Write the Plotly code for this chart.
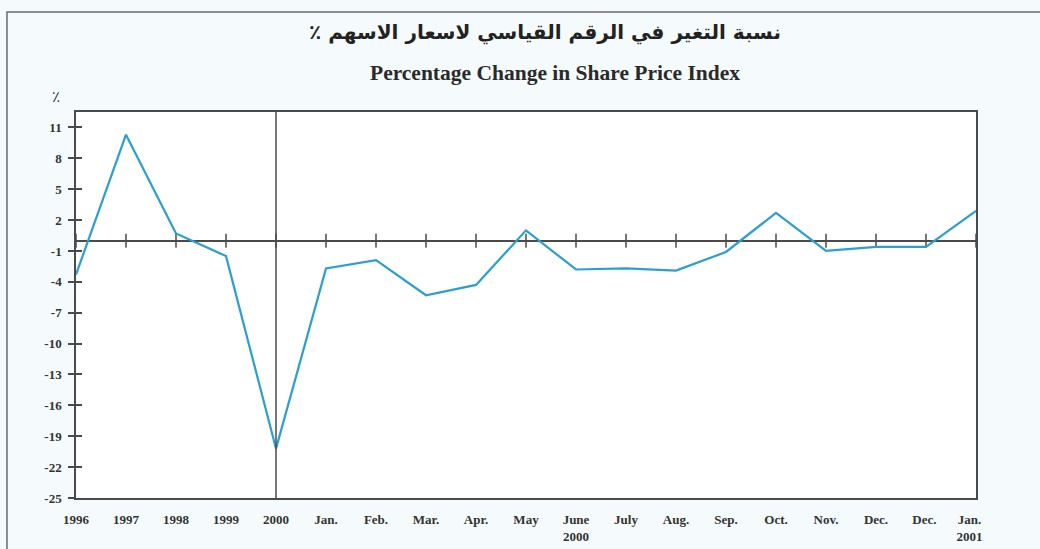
import plotly.graph_objects as go

categories = ["1996", "1997", "1998", "1999", "2000", "Jan.", "Feb.", "Mar.", "Apr.", "May",
              "June<br>2000", "July", "Aug.", "Sep.", "Oct.", "Nov.", "Dec.", "Dec. ",
              "Jan.\u00a0\u00a0\u00a0\u00a0<br>2001\u00a0\u00a0\u00a0\u00a0"]
values = [-3.3, 10.3, 0.7, -1.5, -20.2, -2.7, -1.9, -5.3, -4.3, 1.0,
          -2.8, -2.7, -2.9, -1.1, 2.7, -1.0, -0.6, -0.6, 2.9]
y_ticks = [11, 8, 5, 2, -1, -4, -7, -10, -13, -16, -19, -22, -25]

title_ar = "نسبة التغير في الرقم القياسي لاسعار الاسهم ٪"
title_en = "Percentage Change in Share Price Index"

idx = list(range(len(categories)))
line_color = "#2b9fcf"
axis_color = "#4a4a4a"
text_color = "#333333"
serif = "Liberation Serif, Times New Roman, serif"

fig = go.Figure()

# small tick marks across the zero line at every category
fig.add_trace(go.Scatter(
    x=idx, y=[0] * len(idx), mode="markers",
    marker=dict(symbol="line-ns", size=10, line=dict(color=axis_color, width=1.5)),
    hoverinfo="skip", showlegend=False))

fig.add_trace(go.Scatter(
    x=idx, y=values, mode="lines",
    line=dict(color=line_color, width=2.2),
    showlegend=False))

# invisible trace on the second y axis to show inside ticks
fig.add_trace(go.Scatter(x=[idx[0]], y=[y_ticks[0]], yaxis="y2", mode="markers",
                         marker=dict(opacity=0), hoverinfo="skip", showlegend=False))

yrange = [-25, 12.5]

fig.update_layout(
    width=1040, height=549,
    margin=dict(l=76, r=64, t=112, b=51),
    paper_bgcolor="#f5fbfc",
    plot_bgcolor="#ffffff",
    showlegend=False,
    xaxis=dict(
        range=[0, len(idx) - 1], automargin=False,
        tickmode="array", tickvals=idx, ticktext=categories,
        showgrid=False, zeroline=False,
        showline=True, linecolor=axis_color, linewidth=1.5, mirror=True,
        ticks="", ticklabelstandoff=9,
        tickfont=dict(family=serif, size=13, color=text_color, weight="bold"),
    ),
    yaxis=dict(
        range=yrange, automargin=False,
        tickmode="array", tickvals=y_ticks, ticktext=[str(v) for v in y_ticks],
        showgrid=False,
        zeroline=True, zerolinecolor=axis_color, zerolinewidth=1.5,
        showline=True, linecolor=axis_color, linewidth=1.5, mirror=True,
        ticks="outside", ticklen=6, tickwidth=1.5, tickcolor=axis_color,
        ticklabelstandoff=4,
        tickfont=dict(family=serif, size=13, color=text_color, weight="bold"),
    ),
    yaxis2=dict(
        range=yrange, overlaying="y", side="left", automargin=False,
        tickmode="array", tickvals=y_ticks,
        showticklabels=False, showgrid=False, zeroline=False, showline=False,
        ticks="inside", ticklen=6, tickwidth=1.5, tickcolor=axis_color,
    ),
)

# vertical separator at 2000
fig.add_shape(type="line", xref="x", yref="paper", x0=4, x1=4, y0=0, y1=1,
              line=dict(color=axis_color, width=1.5))

# outer frame
fig.add_shape(type="rect", xref="paper", yref="paper",
              x0=-0.0767, x1=1.2, y0=-0.3, y1=1.259,
              line=dict(color="#6a6a6a", width=1.5), fillcolor="rgba(0,0,0,0)", layer="below")

fig.add_annotation(text="\u200f" + title_ar + "\u200f", xref="paper", yref="paper", x=0.521, y=1.205,
                   showarrow=False, xanchor="center", yanchor="middle",
                   font=dict(family="DejaVu Sans", size=20, color="#222222", weight="bold"))
fig.add_annotation(text=title_en, xref="paper", yref="paper", x=0.532, y=1.10,
                   showarrow=False, xanchor="center", yanchor="middle",
                   font=dict(family=serif, size=21.5, color="#2a2a2a", weight="bold"))
fig.add_annotation(text="٪", xref="paper", yref="paper", x=-0.016, y=1.039,
                   showarrow=False, xanchor="right", yanchor="middle",
                   font=dict(family="DejaVu Sans", size=15, color=text_color))

fig.write_html("out.html", config={"displayModeBar": False},
               post_script="document.body.style.margin='0';")
